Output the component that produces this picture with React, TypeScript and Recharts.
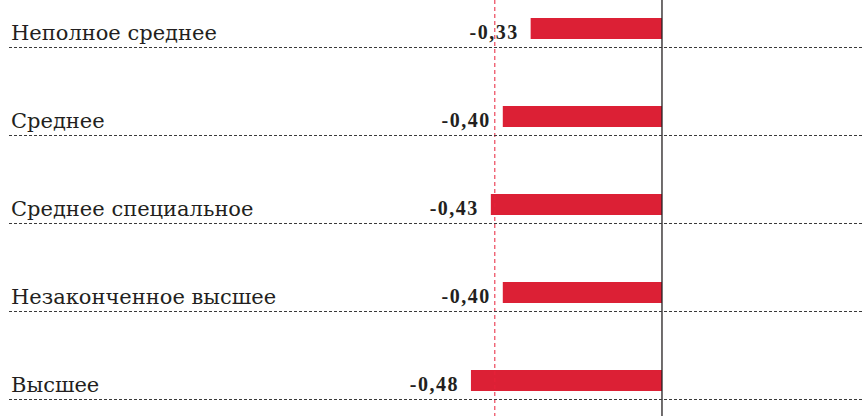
import { BarChart, Bar, XAxis, YAxis, ReferenceLine, LabelList } from 'recharts'

const categories = ['Неполное среднее', 'Среднее', 'Среднее специальное', 'Незаконченное высшее', 'Высшее']
const values = [-0.33, -0.40, -0.43, -0.40, -0.48]
const averageLine = -0.42

const data = categories.map((name, i) => ({ name, value: values[i] }))

const BAR_RED = '#dc2035'
const TEXT = '#231f20'
const SERIF = '"Liberation Serif", serif'
const LABEL_SERIF = '"DejaVu Serif", serif'

const fmt = (v: number) => v.toFixed(2).replace('.', ',')

function renderCategoryTick(props: any) {
  const { y, payload } = props
  const lineY = Math.round(y + 19) + 0.5
  return (
    <g>
      <text x={12} y={y + 12} fontFamily={LABEL_SERIF} fontSize={21} fill={TEXT}>
        {payload.value}
      </text>
      <line x1={10} x2={865} y1={lineY} y2={lineY} stroke="#3a3a3a" strokeWidth={1} strokeDasharray="3 2" />
    </g>
  )
}

function ValueLabel(props: any) {
  const { x, y, width, height, value } = props
  const left = Math.min(x, x + width)
  return (
    <text
      x={left - 12}
      y={y + height - 0.5}
      textAnchor="end"
      fontFamily={SERIF}
      fontWeight="bold"
      fontSize={20}
      letterSpacing={1.5}
      fill={TEXT}
    >
      {fmt(value)}
    </text>
  )
}

function ZeroLine(props: any) {
  const { x1, y1, x2, y2 } = props
  return <line x1={x1} x2={x2} y1={y1 + 26} y2={y2} stroke={TEXT} strokeWidth={1.3} />
}

export default function App() {
  return (
    <div style={{ position: 'fixed', left: 0, top: 0, width: 865, height: 416, overflow: 'hidden', background: '#fff' }}>
      <div style={{ position: 'absolute', left: -1, top: -16 }}>
        <BarChart
          width={866}
          height={440}
          data={data}
          layout="vertical"
          margin={{ top: 0, right: 0, bottom: 0, left: 0 }}
        >
          <XAxis type="number" hide domain={[-1.6633, 0.5101]} allowDataOverflow />
          <YAxis
            type="category"
            dataKey="name"
            width={1}
            axisLine={false}
            tickLine={false}
            tick={renderCategoryTick}
            interval={0}
          />
          <Bar dataKey="value" fill={BAR_RED} barSize={21} isAnimationActive={false}>
            <LabelList dataKey="value" content={<ValueLabel />} />
          </Bar>
          <ReferenceLine x={averageLine} stroke="#e8203a" strokeWidth={1} strokeDasharray="4 3" />
          <ReferenceLine x={0} shape={<ZeroLine />} />
        </BarChart>
      </div>
    </div>
  )
}
